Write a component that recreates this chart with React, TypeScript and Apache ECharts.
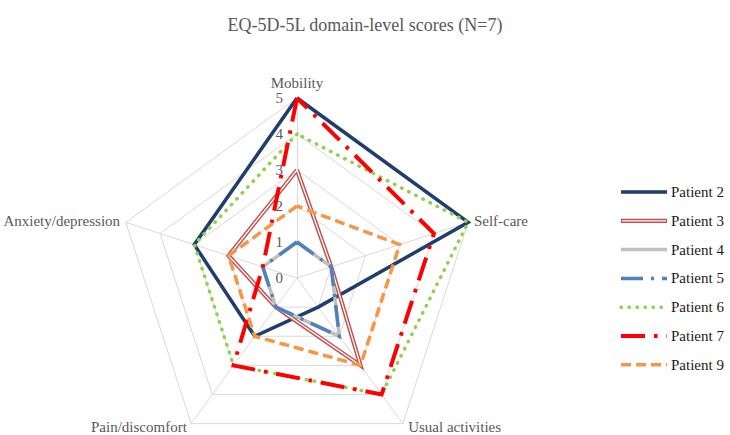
import React, { useEffect, useRef } from 'react';
import * as echarts from 'echarts';

const titleText = 'EQ-5D-5L domain-level scores (N=7)';
const domains = ['Mobility', 'Self-care', 'Usual activities', 'Pain/discomfort', 'Anxiety/depression'];
const patients = ['Patient 2', 'Patient 3', 'Patient 4', 'Patient 5', 'Patient 6', 'Patient 7', 'Patient 9'];
const patient2 = [5, 5, 1, 2, 3];
const patient3 = [3, 1, 3, 1, 2];
const patient4 = [1, 1, 2, 1, 1];
const patient5 = [1, 1, 2, 1, 1];
const patient6 = [4, 5, 4, 3, 3];
const patient7 = [5, 4, 4, 3, 1];
const patient9 = [2, 3, 3, 2, 2];
const scoreMin = 0;
const scoreMax = 5;

const values = [patient2, patient3, patient4, patient5, patient6, patient7, patient9];

// ECharts radar places indicators counter-clockwise; reorder so the domains run clockwise.
const displayOrder = [0, 4, 3, 2, 1];

const FONT = "'Liberation Serif', 'Times New Roman', serif";
const GRID = '#d9d9d9';
const TXT = '#595959';

type Sty = { color: string; width: number; dash: any; cap?: string; inner?: boolean };
const styles: Sty[] = [
  { color: '#203e6c', width: 3.5, dash: 'solid' },
  { color: '#c0504d', width: 4.2, dash: 'solid', inner: true },
  { color: '#bfbfbf', width: 3.5, dash: 'solid' },
  { color: '#4f81bd', width: 3.5, dash: [22, 8, 3, 8] },
  { color: '#92d050', width: 3.5, dash: [0.5, 7.5], cap: 'round' },
  { color: '#ff0000', width: 4, dash: [24, 9, 3.5, 9] },
  { color: '#f79646', width: 3.5, dash: [10, 5] },
];

export default function App() {
  const ref = useRef<HTMLDivElement>(null);
  useEffect(() => {
    if (!ref.current) return;
    const chart = echarts.init(ref.current, undefined, { renderer: 'svg' });

    const indicator = displayOrder.map((di, k) => {
      const ind: any = { name: domains[di], min: scoreMin, max: scoreMax };
      if (k === 0) {
        ind.axisLabel = {
          show: true,
          color: TXT,
          fontSize: 15,
          fontFamily: FONT,
          margin: 14,
        };
        ind.nameGap = 7;
      }
      if (di === 2) {
        ind.nameGap = 4;
        ind.nameTextStyle = { verticalAlign: 'middle', padding: [0, 0, 0, 3] };
      }
      if (di === 3) {
        ind.nameGap = 4;
        ind.nameTextStyle = { verticalAlign: 'middle', padding: [0, 2, 0, 0] };
      }
      return ind;
    });

    const series: any[] = [];
    patients.forEach((p, i) => {
      const st = styles[i];
      const v = displayOrder.map((di) => values[i][di]);
      series.push({
        type: 'radar',
        name: p,
        symbol: 'none',
        silent: true,
        lineStyle: {
          color: st.color,
          width: st.width,
          type: st.dash,
          cap: st.cap || 'butt',
          join: 'miter',
        },
        itemStyle: { color: st.color },
        data: [{ name: p, value: v }],
      });
      if (st.inner) {
        series.push({
          type: 'radar',
          name: p + ' inner',
          symbol: 'none',
          silent: true,
          lineStyle: { color: '#ffffff', width: 1.3, type: 'solid', join: 'miter' },
          data: [{ name: p + ' inner', value: v }],
        });
      }
    });

    const legendX = 621;
    const legendY0 = 192;
    const legendStep = 28.8;
    const graphics: any[] = [];
    patients.forEach((p, i) => {
      const st = styles[i];
      const y = legendY0 + i * legendStep;
      graphics.push({
        type: 'line',
        silent: true,
        shape: { x1: legendX, y1: y, x2: legendX + 46, y2: y },
        style: {
          stroke: st.color,
          lineWidth: st.width,
          lineDash: Array.isArray(st.dash) ? st.dash : null,
          lineCap: st.cap || 'butt',
        },
      });
      if (st.inner) {
        graphics.push({
          type: 'line',
          silent: true,
          shape: { x1: legendX + 1, y1: y, x2: legendX + 45, y2: y },
          style: { stroke: '#ffffff', lineWidth: 1.3 },
        });
      }
      graphics.push({
        type: 'text',
        silent: true,
        x: legendX + 50,
        y: y,
        style: {
          text: p,
          fill: '#1a1a1a',
          fontSize: 15,
          fontFamily: FONT,
          verticalAlign: 'middle',
          align: 'left',
        },
      });
    });

    chart.setOption({
      animation: false,
      backgroundColor: '#ffffff',
      title: {
        text: titleText,
        left: 'center',
        top: 11,
        textStyle: { color: TXT, fontSize: 18, fontWeight: 'normal', fontFamily: FONT },
      },
      radar: {
        center: [297, 278],
        radius: 180,
        startAngle: 90,
        shape: 'polygon',
        splitNumber: 5,
        nameGap: 6,
        axisName: { color: TXT, fontSize: 15, fontFamily: FONT },
        axisLine: { lineStyle: { color: GRID, width: 1 } },
        splitLine: { lineStyle: { color: GRID, width: 1 } },
        splitArea: { show: false },
        axisTick: { show: false },
        axisLabel: { show: false, color: TXT, fontSize: 15, fontFamily: FONT, margin: 14 },
        indicator,
      },
      graphic: graphics,
      series,
    });
    return () => chart.dispose();
  }, []);
  return (
    <div
      ref={ref}
      style={{ position: 'fixed', left: 0, top: 0, width: 730, height: 435 }}
    />
  );
}
